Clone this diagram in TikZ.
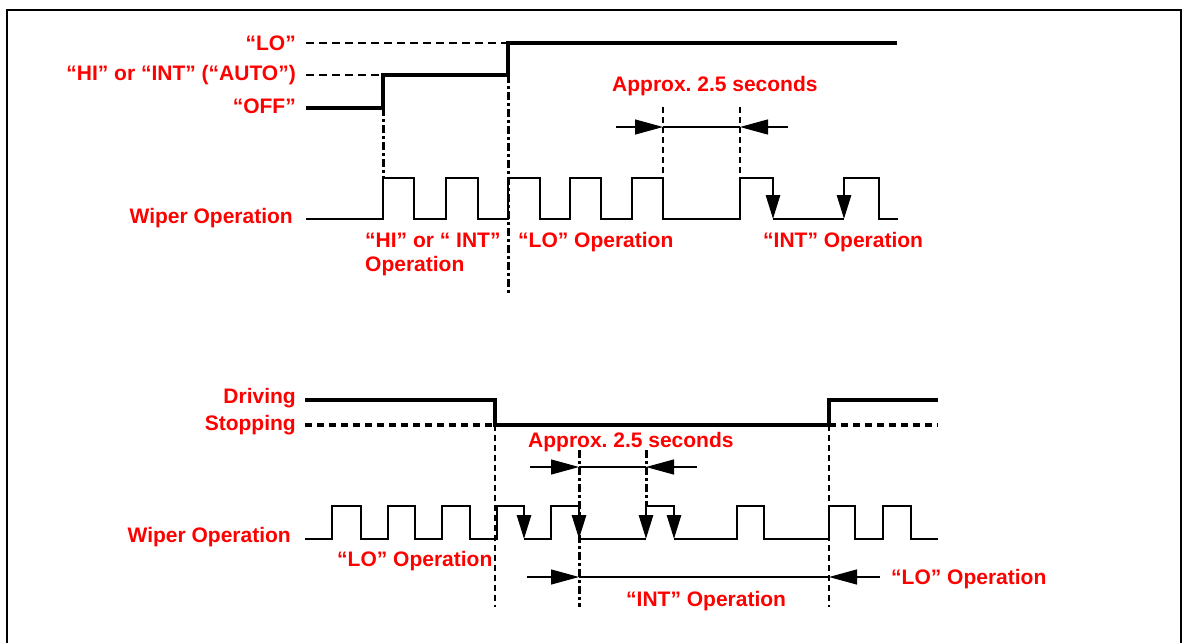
\documentclass[tikz,border=0pt]{standalone}
\usepackage{fontspec}
\setmainfont{Liberation Sans}
\usepackage{xcolor}
\usetikzlibrary{arrows.meta,positioning,calc}
\definecolor{labelred}{RGB}{255,0,0}
\frenchspacing

\begin{document}
\begin{tikzpicture}[
    x=1pt, y=-1pt,
    lbl/.style={text=labelred, font=\fontsize{21}{25}\selectfont\bfseries, inner sep=0pt},
    signal/.style={line width=3.6pt, line join=miter},
    pulse/.style={line width=2.8pt, line join=miter},
    guide/.style={line width=1.6pt, dash pattern=on 6pt off 4pt},
    guidethick/.style={line width=3pt, dash pattern=on 8pt off 3pt on 3pt off 3pt},
    levelline/.style={line width=2.2pt, dash pattern=on 8pt off 5pt},
    stopline/.style={line width=3.4pt, dash pattern=on 7pt off 5pt},
    dimline/.style={line width=1.2pt},
    dimtip/.style={-{Triangle[length=28pt,width=15pt]}, line width=1.2pt},
    droptip/.style={-{Triangle[length=24pt,width=14pt]}, line width=2.8pt}
]
\useasboundingbox (0,0) rectangle (1186,643);
\fill[white] (0,0) rectangle (1186,643);

% frame
\draw[line width=2.4pt] (7,643) -- (7,10) -- (1181,10) -- (1181,643);

% Switch levels
\node[lbl, anchor=base east] (lo) at (296,50) {“LO”};
\node[lbl, anchor=base east] (hiint) at (296,80) {“HI” or “INT” (“AUTO”)};
\node[lbl, anchor=base east] (off) at (296,113) {“OFF”};
\draw[levelline] (306,43) -- (508,43);
\draw[levelline] (306,75) -- (383,75);
\draw[signal] (306,108) -- (383,108) -- (383,75) -- (508,75) -- (508,43) -- (897,43);
\draw[guidethick] (383,108) -- (383,178);
\draw[guidethick] (508,75) -- (508,293);

% Wiper operation 1
\node[lbl, anchor=base east] (wiper1) at (293,223) {Wiper Operation};
\draw[pulse] (306,219) -- (383,219) -- (383,178) -- (414,178) -- (414,219) -- (446,219)
    -- (446,178) -- (478,178) -- (478,219) -- (508,219) -- (508,178) -- (540,178)
    -- (540,219) -- (570,219) -- (570,178) -- (601,178) -- (601,219) -- (632,219)
    -- (632,178) -- (663,178) -- (663,219) -- (740,219) -- (740,178) -- (773,178);
\draw[droptip] (773,177) -- (773,219);
\draw[pulse] (773,219) -- (844,219);
\draw[droptip] (844,177) -- (844,219);
\draw[pulse] (844,178) -- (879,178) -- (879,219) -- (898,219);
\node[lbl, anchor=base west] (hiop) at (365,247) {“HI” or “ INT”};
\node[lbl, anchor=base west] (hiop2) at (365,271) {Operation};
\node[lbl, anchor=base west] (loop1) at (518,247) {“LO” Operation};
\node[lbl, anchor=base west] (intop1) at (763,247) {“INT” Operation};

% Approx. 2.5 seconds (1)
\draw[guide] (663,107) -- (663,178);
\draw[guide] (740,107) -- (740,178);
\coordinate (a1) at (663,127);
\coordinate (b1) at (740,127);
\draw[dimtip] ($(a1)+(-47,0)$) -- (a1);
\draw[dimline] (a1) -- (b1);
\draw[dimtip] ($(b1)+(48,0)$) -- (b1);
\node[lbl, anchor=base west] (approx1) at (612,91) {Approx. 2.5 seconds};

% Driving / Stopping
\node[lbl, anchor=base east] (driving) at (296,403) {Driving};
\node[lbl, anchor=base east] (stopping) at (296,430) {Stopping};
\draw[stopline] (305,425) -- (495,425);
\draw[stopline] (829,425) -- (938,425);
\draw[signal] (305,400) -- (495,400) -- (495,425) -- (829,425) -- (829,400) -- (938,400);
\draw[guide] (495,425) -- (495,607);
\draw[guide] (829,425) -- (829,607);
\draw[guidethick] (579,450) -- (579,607);
\draw[guidethick] (646,450) -- (646,506);

% Wiper operation 2
\node[lbl, anchor=base east] (wiper2) at (291,542) {Wiper Operation};
\draw[pulse] (305,539) -- (332,539) -- (332,506) -- (361,506) -- (361,539) -- (388,539)
    -- (388,506) -- (415,506) -- (415,539) -- (442,539) -- (442,506) -- (470,506)
    -- (470,539) -- (497,539) -- (497,506) -- (524,506);
\draw[droptip] (524,505) -- (524,539);
\draw[pulse] (524,539) -- (551,539) -- (551,506) -- (579,506);
\draw[droptip] (579,505) -- (579,539);
\draw[pulse] (579,539) -- (646,539);
\draw[droptip] (646,505) -- (646,539);
\draw[pulse] (646,506) -- (674,506);
\draw[droptip] (674,505) -- (674,539);
\draw[pulse] (674,539) -- (737,539) -- (737,506) -- (764,506) -- (764,539) -- (829,539)
    -- (829,506) -- (855,506) -- (855,539) -- (883,539) -- (883,506) -- (911,506)
    -- (911,539) -- (938,539);
\node[lbl, anchor=base west] (loop2) at (337,566) {“LO” Operation};

% Approx. 2.5 seconds (2)
\coordinate (a2) at (579,467);
\coordinate (b2) at (646,467);
\draw[dimtip] ($(a2)+(-49,0)$) -- (a2);
\draw[dimline] (a2) -- (b2);
\draw[dimtip] ($(b2)+(51,0)$) -- (b2);
\node[lbl, anchor=base west] (approx2) at (528,447) {Approx. 2.5 seconds};

% INT operation span
\coordinate (a3) at (579,577);
\coordinate (b3) at (829,577);
\draw[dimtip] ($(a3)+(-52,0)$) -- (a3);
\draw[dimline] (a3) -- (b3);
\draw[dimtip] ($(b3)+(51,0)$) -- (b3);
\node[lbl, anchor=base west] (intop2) at (626,606) {“INT” Operation};
\node[lbl, anchor=base west] (loop3) at (891,584) {“LO” Operation};

\end{tikzpicture}
\end{document}
